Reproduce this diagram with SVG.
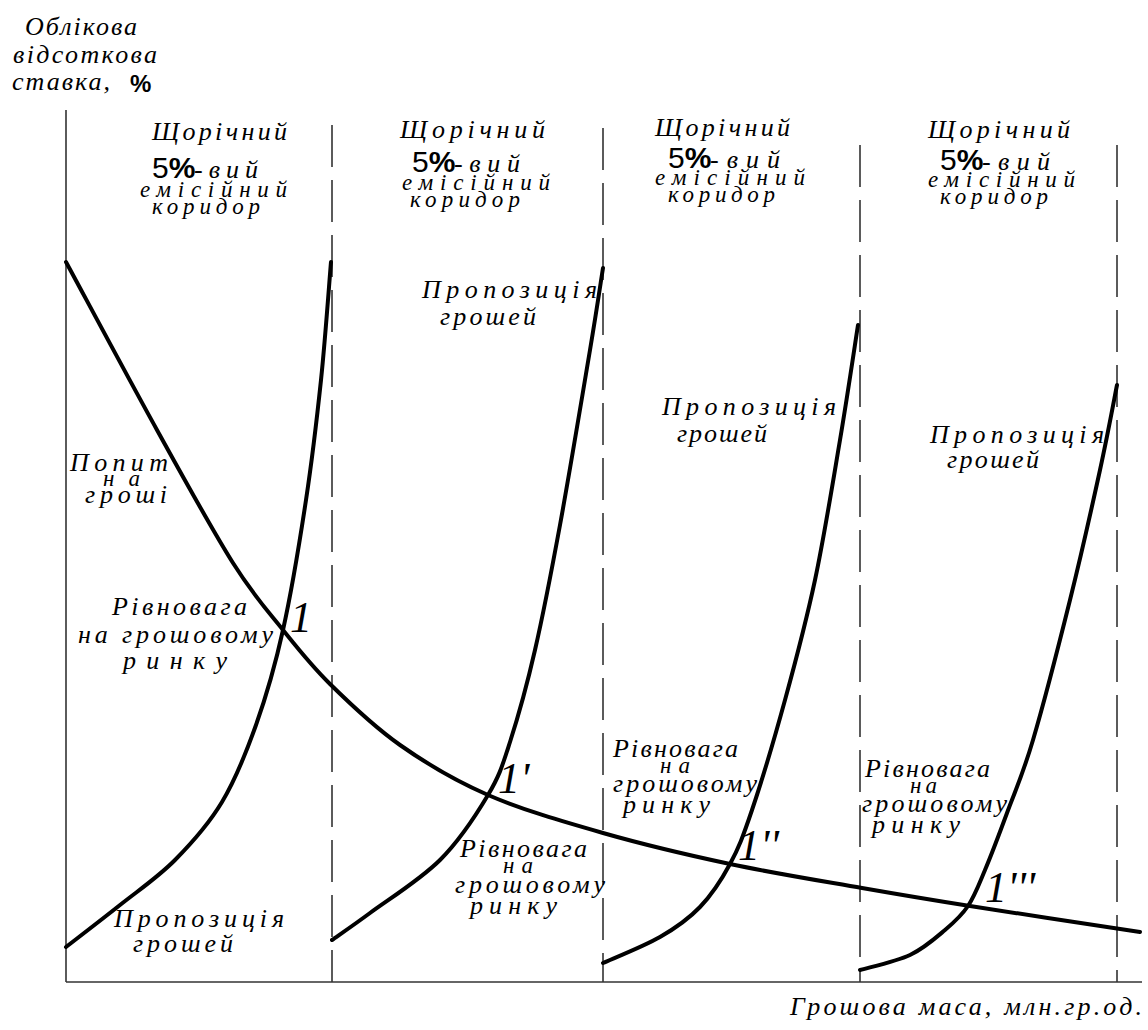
<svg xmlns="http://www.w3.org/2000/svg" width="1148" height="1030" viewBox="0 0 1148 1030">
<style>
.t{font-family:"Liberation Serif","DejaVu Serif",serif;font-style:italic;font-size:26px;fill:#000}
.m{font-family:"Liberation Serif","DejaVu Serif",serif;font-style:italic;font-size:23px;fill:#000}
.n{font-family:"Liberation Serif","DejaVu Serif",serif;font-style:italic;font-size:44px;fill:#000}
.s{font-family:"Liberation Sans",Arial,sans-serif;font-size:30px;fill:#000}
.b{font-weight:bold}
.p{font-family:"Liberation Sans",Arial,sans-serif;font-size:24px;font-weight:bold;fill:#000}
.axis{stroke:#333;stroke-width:1.6;fill:none}
.dash{stroke:#333;stroke-width:1.6;fill:none;stroke-dasharray:42 13}
.curve{stroke:#000;stroke-width:4;fill:none;stroke-linecap:round;stroke-linejoin:round}
</style>
<rect width="1148" height="1030" fill="#fff"/>
<g id="axes">
<line class="axis" x1="66" y1="110" x2="66" y2="982"/>
<line class="axis" x1="66" y1="982" x2="1142" y2="982"/>
</g>
<g id="corridor-lines">
<line class="dash" x1="332" y1="125" x2="332" y2="982"/>
<line class="dash" x1="603" y1="128" x2="603" y2="982"/>
<line class="dash" x1="860" y1="145" x2="860" y2="982"/>
<line class="dash" x1="1117" y1="145" x2="1117" y2="982"/>
</g>
<g id="connectors">
<path id="demand" class="curve" d="M66,262 C81.2,290 129.2,379.8 157,430 C184.8,480.2 212,529.7 233,563 C254,596.3 266.8,609.8 283,630 C299.2,650.2 310.5,664.8 330,684 C349.5,703.2 373.7,726.5 400,745 C426.3,763.5 454.2,780.3 488,795 C521.8,809.7 562.7,821.5 603,833 C643.3,844.5 686.8,854.8 730,864 C773.2,873.2 822,881 862,888 C902,895 923.7,898.7 970,906 C1016.3,913.3 1111.7,927.7 1140,932"/>
<path id="supply1" class="curve" d="M66,947 C75,940 101.8,919.5 120,905 C138.2,890.5 158,877.2 175,860 C192,842.8 208.5,824.5 222,802 C235.5,779.5 245.8,753.7 256,725 C266.2,696.3 274.7,667.5 283,630 C291.3,592.5 299.7,541.7 306,500 C312.3,458.3 316.8,419.7 321,380 C325.2,340.3 329.3,281.7 331,262"/>
<path id="supply2" class="curve" d="M332,940 C338.3,935.5 352,926.3 370,913 C388,899.7 420.3,879.7 440,860 C459.7,840.3 476.3,814.7 488,795 C499.7,775.3 502.2,766.2 510,742 C517.8,717.8 526.7,686.2 535,650 C543.3,613.8 550.8,575 560,525 C569.2,475 582.8,392.8 590,350 C597.2,307.2 600.8,281.7 603,268"/>
<path id="supply3" class="curve" d="M603,963 C612.5,958.7 643.8,946.3 660,937 C676.2,927.7 688.3,919.2 700,907 C711.7,894.8 721.3,880.2 730,864 C738.7,847.8 742.8,837.3 752,810 C761.2,782.7 774.5,738.3 785,700 C795.5,661.7 805.8,623.3 815,580 C824.2,536.7 832.8,482.5 840,440 C847.2,397.5 855,344.2 858,325"/>
<path id="supply4" class="curve" d="M860,970 C868.3,967.5 895.8,961.7 910,955 C924.2,948.3 935.3,938.2 945,930 C954.7,921.8 961.3,916 968,906 C974.7,896 978.5,885.5 985,870 C991.5,854.5 999,834.7 1007,813 C1015,791.3 1022.5,775.5 1033,740 C1043.5,704.5 1058.8,645 1070,600 C1081.2,555 1092.2,505.8 1100,470 C1107.8,434.2 1114.2,399.2 1117,385"/>
</g>
<g id="y-axis-label">
<text class="t" x="25" y="35" textLength="112" lengthAdjust="spacing">Облікова</text>
<text class="t" x="13" y="63" textLength="144" lengthAdjust="spacing">відсоткова</text>
<text class="t" x="12" y="90" textLength="98" lengthAdjust="spacing">ставка,</text>
<text class="p" x="130" y="92">%</text>
</g>
<g id="x-axis-label">
<text class="t" x="790" y="1015" textLength="352" lengthAdjust="spacing">Грошова маса, млн.гр.од.</text>
</g>
<g id="corridor1">
<text class="t" x="152" y="140" textLength="135" lengthAdjust="spacing">Щорічний</text>
<text class="s" x="152" y="178">5<tspan class="b">%</tspan></text>
<text class="t" x="194" y="178" textLength="64" lengthAdjust="spacing">-вий</text>
<text class="m" x="140" y="197" textLength="147" lengthAdjust="spacing">емісійний</text>
<text class="m" x="152" y="214" textLength="108" lengthAdjust="spacing">коридор</text>
</g>
<g id="corridor2">
<text class="t" x="400" y="138" textLength="145" lengthAdjust="spacing">Щорічний</text>
<text class="s" x="412" y="172">5<tspan class="b">%</tspan></text>
<text class="t" x="454" y="172" textLength="66" lengthAdjust="spacing">-вий</text>
<text class="m" x="402" y="190" textLength="148" lengthAdjust="spacing">емісійний</text>
<text class="m" x="410" y="207" textLength="110" lengthAdjust="spacing">коридор</text>
</g>
<g id="corridor3">
<text class="t" x="655" y="136" textLength="135" lengthAdjust="spacing">Щорічний</text>
<text class="s" x="668" y="168">5<tspan class="b">%</tspan></text>
<text class="t" x="710" y="168" textLength="70" lengthAdjust="spacing">-вий</text>
<text class="m" x="655" y="185" textLength="150" lengthAdjust="spacing">емісійний</text>
<text class="m" x="668" y="202" textLength="107" lengthAdjust="spacing">коридор</text>
</g>
<g id="corridor4">
<text class="t" x="928" y="138" textLength="142" lengthAdjust="spacing">Щорічний</text>
<text class="s" x="940" y="170">5<tspan class="b">%</tspan></text>
<text class="t" x="982" y="170" textLength="68" lengthAdjust="spacing">-вий</text>
<text class="m" x="928" y="187" textLength="147" lengthAdjust="spacing">емісійний</text>
<text class="m" x="940" y="204" textLength="108" lengthAdjust="spacing">коридор</text>
</g>
<g id="demand-label">
<text class="t" x="70" y="471" textLength="98" lengthAdjust="spacing">Попит</text>
<text class="m" x="103" y="486" textLength="37" lengthAdjust="spacing">на</text>
<text class="t" x="85" y="503" textLength="82" lengthAdjust="spacing">гроші</text>
</g>
<g id="supply-label1">
<text class="t" x="114" y="927" textLength="170" lengthAdjust="spacing">Пропозиція</text>
<text class="t" x="133" y="952" textLength="100" lengthAdjust="spacing">грошей</text>
</g>
<g id="supply-label2">
<text class="t" x="422" y="298" textLength="175" lengthAdjust="spacing">Пропозиція</text>
<text class="t" x="440" y="325" textLength="96" lengthAdjust="spacing">грошей</text>
</g>
<g id="supply-label3">
<text class="t" x="662" y="415" textLength="174" lengthAdjust="spacing">Пропозиція</text>
<text class="t" x="677" y="442" textLength="90" lengthAdjust="spacing">грошей</text>
</g>
<g id="supply-label4">
<text class="t" x="930" y="443" textLength="174" lengthAdjust="spacing">Пропозиція</text>
<text class="t" x="947" y="468" textLength="92" lengthAdjust="spacing">грошей</text>
</g>
<g id="equilibrium1">
<text class="t" x="112" y="615" textLength="135" lengthAdjust="spacing">Рівновага</text>
<text class="t" x="78" y="643" textLength="195" lengthAdjust="spacing">на грошовому</text>
<text class="t" x="123" y="669" textLength="104" lengthAdjust="spacing">ринку</text>
<text class="n" x="290" y="632">1</text>
</g>
<g id="equilibrium2">
<text class="t" x="460" y="857" textLength="127" lengthAdjust="spacing">Рівновага</text>
<text class="m" x="503" y="873" textLength="30" lengthAdjust="spacing">на</text>
<text class="t" x="455" y="893" textLength="150" lengthAdjust="spacing">грошовому</text>
<text class="t" x="470" y="914" textLength="87" lengthAdjust="spacing">ринку</text>
<text class="n" x="498" y="793">1'</text>
</g>
<g id="equilibrium3">
<text class="t" x="613" y="757" textLength="125" lengthAdjust="spacing">Рівновага</text>
<text class="m" x="660" y="773" textLength="30" lengthAdjust="spacing">на</text>
<text class="t" x="613" y="792" textLength="144" lengthAdjust="spacing">грошовому</text>
<text class="t" x="623" y="813" textLength="87" lengthAdjust="spacing">ринку</text>
<text class="n" x="738" y="860">1''</text>
</g>
<g id="equilibrium4">
<text class="t" x="865" y="777" textLength="125" lengthAdjust="spacing">Рівновага</text>
<text class="m" x="910" y="793" textLength="27" lengthAdjust="spacing">на</text>
<text class="t" x="862" y="812" textLength="145" lengthAdjust="spacing">грошовому</text>
<text class="t" x="872" y="833" textLength="88" lengthAdjust="spacing">ринку</text>
<text class="n" x="985" y="902">1'''</text>
</g>
</svg>
